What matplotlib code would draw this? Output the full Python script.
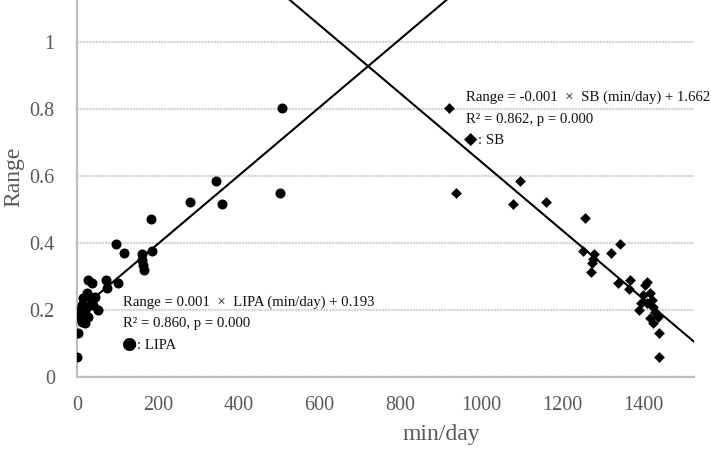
import numpy as np
import matplotlib
matplotlib.use("Agg")
import matplotlib.pyplot as plt

# LIPA (min/day) vs Range
lipa_x = [0, 2, 2, 7, 12, 12, 16, 20, 20, 24, 24, 27, 28, 32, 36, 40, 44, 51,
          72, 75, 96, 102, 117, 161, 161, 164, 166, 183, 185, 280, 344, 359,
          502, 507]
lipa_y = [0.06, 0.13, 0.18, 0.20, 0.165, 0.215, 0.235, 0.16, 0.19, 0.21, 0.25,
          0.18, 0.29, 0.24, 0.28, 0.215, 0.24, 0.20, 0.29, 0.266, 0.397, 0.28,
          0.37, 0.367, 0.349, 0.334, 0.319, 0.472, 0.376, 0.522, 0.585, 0.516,
          0.549, 0.803]

# SB (min/day) vs Range
sb_x = [920, 937, 1078, 1096, 1160, 1252, 1256, 1271, 1274, 1277, 1279, 1321,
        1338, 1343, 1366, 1368, 1390, 1395, 1400, 1405, 1410, 1410, 1417, 1417,
        1422, 1425, 1425, 1430, 1437, 1440, 1440]
sb_y = [0.803, 0.549, 0.516, 0.585, 0.522, 0.376, 0.475, 0.313, 0.34, 0.352,
        0.367, 0.37, 0.28, 0.397, 0.263, 0.29, 0.20, 0.22, 0.245, 0.275, 0.284,
        0.22, 0.25, 0.176, 0.23, 0.21, 0.16, 0.194, 0.179, 0.13, 0.06]

# regression lines
lipa_fit = (0.00102, 0.193)
sb_fit = (-0.00102, 1.662)

xticks = [0, 200, 400, 600, 800, 1000, 1200, 1400]
yticks = [0, 0.2, 0.4, 0.6, 0.8, 1]
ytick_labels = ["0", "0.2", "0.4", "0.6", "0.8", "1"]

serif = ["Liberation Serif", "DejaVu Serif"]
plt.rcParams["font.family"] = serif

fig = plt.figure(figsize=(7.11, 4.5), dpi=100)
ax = fig.add_axes([0.1083, 0.1622, 0.8677, 0.8378])

xmax, ymax = 1526, 1.125
ax.set_xlim(0, xmax)
ax.set_ylim(0, ymax)

# gridlines
ax.set_yticks(yticks)
ax.set_yticklabels(ytick_labels)
ax.set_xticks(xticks)
ax.yaxis.grid(True, color="#d3d3d3", lw=1.6, ls=(0, (1, 0.4)))
ax.set_axisbelow(True)

for s in ["top", "right"]:
    ax.spines[s].set_visible(False)
for s in ["left", "bottom"]:
    ax.spines[s].set_color("#bfbfbf")
    ax.spines[s].set_linewidth(1.6)

ax.tick_params(length=0, labelsize=14.5, labelcolor="#595959")
ax.tick_params(axis="y", pad=16)
ax.tick_params(axis="x", pad=14)

# fit lines
xx = np.linspace(0, xmax, 200)
ax.plot(xx, lipa_fit[0] * xx + lipa_fit[1], color="black", lw=1.5)
ax.plot(xx, sb_fit[0] * xx + sb_fit[1], color="black", lw=1.5)

# points
ax.scatter(lipa_x, lipa_y, s=52, marker="o", color="black", zorder=3, linewidths=0)
ax.scatter(sb_x, sb_y, s=30, marker="D", color="black", zorder=3, linewidths=0)

# annotations
fs = 10.6
txt = "#111111"
ax.text(114, 0.224, "Range = 0.001  \u00d7  LIPA (min/day) + 0.193", fontsize=fs,
        va="center", ha="left", color=txt)
ax.text(114, 0.161, "R\u00b2 = 0.860, p = 0.000", fontsize=fs,
        va="center", ha="left", color=txt)
ax.text(108, 0.098, "\u25cf", fontsize=12.5, va="center", ha="left",
        family=["DejaVu Sans"], color="black")
ax.text(148, 0.095, ": LIPA", fontsize=fs, va="center", ha="left", color=txt)

ax.text(962, 0.836, "Range = -0.001  \u00d7  SB (min/day) + 1.662", fontsize=fs,
        va="center", ha="left", color=txt, clip_on=False)
ax.text(962, 0.767, "R\u00b2 = 0.862, p = 0.000", fontsize=fs,
        va="center", ha="left", color=txt)
ax.text(957, 0.709, "\u25c6", fontsize=12.5, va="center", ha="left",
        family=["DejaVu Sans"], color="black")
ax.text(993, 0.707, ": SB", fontsize=fs, va="center", ha="left", color=txt)

ax.set_xlabel("min/day", fontsize=17, color="#595959")
ax.set_ylabel("Range", fontsize=17, color="#595959")
ax.xaxis.set_label_coords(0.59, -0.125)
ax.yaxis.set_label_coords(-0.085, 0.53)

fig.savefig("out.png", dpi=100)
